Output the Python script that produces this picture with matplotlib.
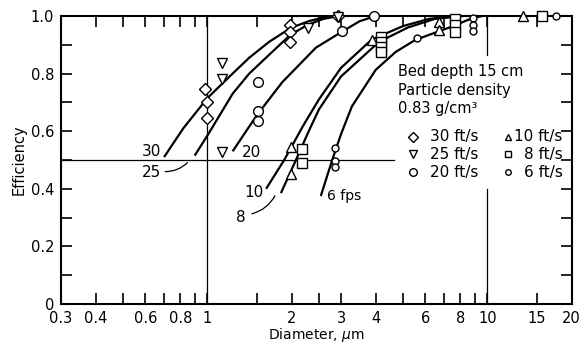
import matplotlib
matplotlib.use("Agg")
import matplotlib.pyplot as plt
from matplotlib.ticker import FixedLocator, FixedFormatter, NullFormatter

# ---------------- data ----------------
# measured points (diameter um, efficiency)
d30 = [0.98, 1.0, 1.0, 1.975, 1.975, 1.975, 2.93]
e30 = [0.747, 0.70, 0.647, 0.969, 0.946, 0.911, 1.0]
d25 = [1.128, 1.128, 1.128, 2.29, 2.93]
e25 = [0.836, 0.782, 0.526, 0.957, 0.995]
d20 = [1.52, 1.52, 1.52, 3.02, 3.93]
e20 = [0.769, 0.669, 0.637, 0.949, 1.0]
d10 = [1.985, 1.985, 3.86, 6.7, 6.7, 13.4]
e10 = [0.546, 0.45, 0.917, 0.98, 0.95, 1.0]
d8 = [2.17, 2.17, 4.15, 4.15, 4.15, 4.15, 7.67, 7.67, 7.67, 15.6]
e8 = [0.539, 0.488, 0.926, 0.909, 0.892, 0.875, 0.99, 0.969, 0.946, 1.0]
d6 = [2.85, 2.85, 2.85, 5.6, 8.87, 8.87, 8.87, 17.6]
e6 = [0.541, 0.495, 0.474, 0.923, 0.994, 0.969, 0.948, 1.0]

# fitted curves
c30_d = [0.70, 0.82, 1.0, 1.2, 1.41, 1.66, 1.98, 2.3, 2.6, 2.95]
c30_e = [0.51, 0.61, 0.715, 0.79, 0.855, 0.91, 0.958, 0.982, 0.995, 1.0]
c25_d = [0.90, 1.0, 1.23, 1.41, 1.66, 1.98, 2.29, 2.6, 2.95]
c25_e = [0.515, 0.585, 0.73, 0.80, 0.865, 0.935, 0.97, 0.99, 1.0]
c20_d = [1.23, 1.5, 1.85, 2.44, 3.03, 3.5, 4.0]
c20_e = [0.53, 0.655, 0.77, 0.89, 0.946, 0.982, 1.0]
c10_d = [1.62, 1.88, 2.2, 2.5, 3.0, 3.86, 5.0, 6.2, 7.8]
c10_e = [0.40, 0.50, 0.62, 0.71, 0.82, 0.918, 0.965, 0.99, 1.0]
c8_d = [1.83, 2.07, 2.3, 2.5, 3.0, 4.1, 5.2, 6.5, 8.2]
c8_e = [0.385, 0.50, 0.60, 0.675, 0.79, 0.91, 0.96, 0.99, 1.0]
c6_d = [2.54, 2.79, 3.0, 3.28, 3.99, 4.7, 5.53, 7.45, 8.8, 9.6]
c6_e = [0.375, 0.50, 0.59, 0.686, 0.813, 0.875, 0.917, 0.963, 0.992, 1.0]

xtick_vals = [0.3, 0.4, 0.6, 0.8, 1, 2, 3, 4, 6, 8, 10, 15, 20]
xtick_labels = ["0.3", "0.4", "0.6", "0.8", "1", "2", "3", "4", "6", "8", "10", "15", "20"]
xminor_vals = [0.5, 0.7, 0.9, 1.5, 2.5, 5, 7, 9]
ytick_vals = [0, 0.2, 0.4, 0.6, 0.8, 1.0]
ytick_labels = ["0", "0.2", "0.4", "0.6", "0.8", "1.0"]
yminor_vals = [0.1, 0.3, 0.5, 0.7, 0.9]

# ---------------- figure ----------------
plt.rcParams['font.family'] = ['DejaVu Sans']
fig = plt.figure(figsize=(5.87, 3.47), dpi=100)
ax = fig.add_axes([0.104, 0.124, 0.870, 0.830])
ax.set_xscale('log')
ax.set_xlim(0.3, 20)
ax.set_ylim(0, 1.0)

# reference lines
ax.axvline(1, color='black', lw=0.9, zorder=1)
ax.plot([10, 10], [0.865, 1.0], color='black', lw=0.9, zorder=1)
ax.plot([10, 10], [0.0, 0.40], color='black', lw=0.9, zorder=1)
ax.plot([0.3, 4.63], [0.5, 0.5], color='black', lw=0.9, zorder=1)

# curves
for cd, ce in [(c30_d, c30_e), (c25_d, c25_e), (c20_d, c20_e),
               (c10_d, c10_e), (c8_d, c8_e), (c6_d, c6_e)]:
    ax.plot(cd, ce, color='black', lw=1.6, zorder=2, solid_capstyle='butt',
            solid_joinstyle='round')

mk = dict(mfc='white', mec='black', mew=1.0, ls='none', zorder=4, clip_on=False)
ax.plot(d30, e30, marker='D', ms=6, **mk)
ax.plot(d25, e25, marker='v', ms=6.5, **mk)
ax.plot(d20, e20, marker='o', ms=7, **mk)
ax.plot(d10, e10, marker='^', ms=6.5, **mk)
ax.plot(d8, e8, marker='s', ms=6.5, **mk)
ax.plot(d6, e6, marker='o', ms=5, **mk)

# curve labels
fs = 11
ax.text(0.632, 0.529, "30", fontsize=fs, ha='center', va='center')
ax.text(0.632, 0.457, "25", fontsize=fs, ha='center', va='center')
ax.annotate("", xy=(0.862, 0.498), xytext=(0.69, 0.46),
            arrowprops=dict(arrowstyle='-', lw=0.9, connectionstyle='arc3,rad=0.25'))
ax.text(1.434, 0.526, "20", fontsize=fs, ha='center', va='center')
ax.text(1.47, 0.388, "10", fontsize=fs, ha='center', va='center')
ax.text(1.32, 0.301, "8", fontsize=fs, ha='center', va='center')
ax.annotate("", xy=(1.76, 0.384), xytext=(1.41, 0.311),
            arrowprops=dict(arrowstyle='-', lw=0.9, connectionstyle='arc3,rad=0.25'))
ax.text(3.07, 0.374, "6 fps", fontsize=10, ha='center', va='center')

# annotation text block
T = ax.transAxes
ax.text(0.659, 0.806, "Bed depth 15 cm", transform=T, fontsize=10.5, va='center', ha='left')
ax.text(0.659, 0.740, "Particle density", transform=T, fontsize=10.5, va='center', ha='left')
ax.text(0.659, 0.680, "0.83 g/cm³", transform=T, fontsize=10.5, va='center', ha='left')

rows = [0.581, 0.519, 0.457]
leg1 = [('D', 5.5, "30 ft/s"), ('v', 6, "25 ft/s"), ('o', 5.5, "20 ft/s")]
leg2 = [('^', 5, "10 ft/s"), ('s', 5, "8 ft/s"), ('o', 4, "6 ft/s")]
for (m, s, lab), y in zip(leg1, rows):
    ax.plot([0.689], [y], marker=m, ms=s, mfc='white', mec='black', mew=1.0,
            transform=T, ls='none', clip_on=False)
    ax.text(0.818, y, lab, transform=T, fontsize=11, va='center', ha='right')
for (m, s, lab), y in zip(leg2, rows):
    ax.plot([0.875], [y], marker=m, ms=s, mfc='white', mec='black', mew=1.0,
            transform=T, ls='none', clip_on=False)
    ax.text(0.982, y, lab, transform=T, fontsize=11, va='center', ha='right')

# ticks
ax.xaxis.set_major_locator(FixedLocator(xtick_vals))
ax.xaxis.set_major_formatter(FixedFormatter(xtick_labels))
ax.xaxis.set_minor_locator(FixedLocator(xminor_vals))
ax.xaxis.set_minor_formatter(NullFormatter())
ax.yaxis.set_major_locator(FixedLocator(ytick_vals))
ax.yaxis.set_major_formatter(FixedFormatter(ytick_labels))
ax.yaxis.set_minor_locator(FixedLocator(yminor_vals))
ax.tick_params(which='both', direction='in', top=True, right=True, width=1.2,
               labelsize=10.5)
ax.tick_params(axis='x', which='major', pad=5)
ax.tick_params(axis='y', which='major', pad=5)
ax.tick_params(which='major', length=8)
ax.tick_params(which='minor', length=8)
for sp in ax.spines.values():
    sp.set_linewidth(1.5)

ax.set_xlabel("Diameter, $\\mu$m", fontsize=10, labelpad=0)
ax.set_ylabel("Efficiency", fontsize=10.5, labelpad=3)

fig.savefig("out.png", dpi=100)
